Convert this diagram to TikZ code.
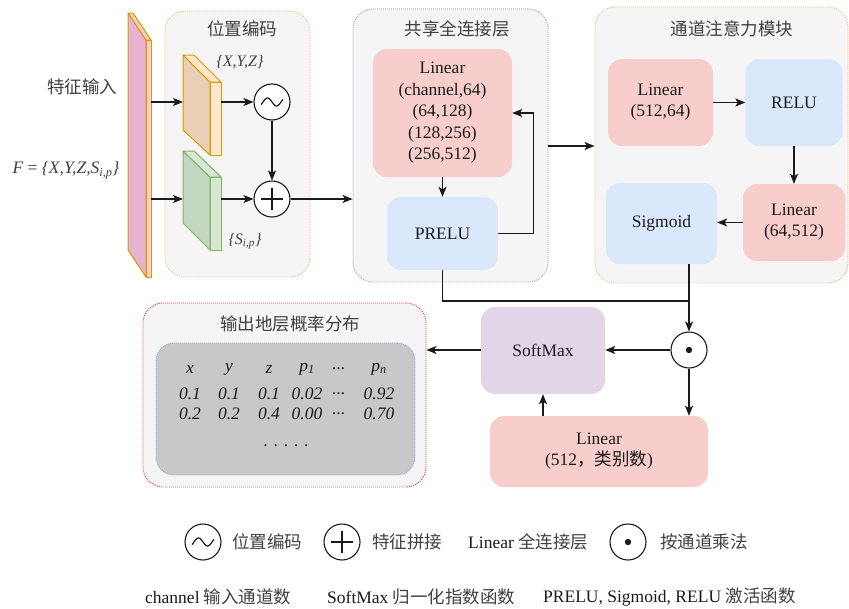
\documentclass[tikz,border=0pt]{standalone}
\usepackage{fontspec}
\setmainfont{Liberation Serif}
\newfontfamily\cjk{Noto Sans CJK SC}
\usetikzlibrary{arrows.meta,calc}

\definecolor{panelfill}{HTML}{F5F5F5}
\definecolor{orangeedge}{HTML}{FFB570}
\definecolor{blueedge}{HTML}{7EA6E0}
\definecolor{rededge}{HTML}{FF3333}
\definecolor{redfill}{HTML}{F8CECC}
\definecolor{bluefill}{HTML}{DAE8FC}
\definecolor{purplefill}{HTML}{E1D5E7}
\definecolor{grayfill}{HTML}{C8C8C8}
\definecolor{titlegray}{HTML}{404040}
\definecolor{ink}{HTML}{1A1A1A}
\definecolor{slabdark}{HTML}{E6B3D1}
\definecolor{slabedge}{HTML}{D79B00}
\definecolor{tandark}{HTML}{E8CFB6}
\definecolor{tanlite}{HTML}{FFE6CC}
\definecolor{greendark}{HTML}{C3D6C0}
\definecolor{greenlite}{HTML}{D5E8D4}
\definecolor{greenedge}{HTML}{82B366}

\newcommand\basesize{\fontsize{17.5}{21}\selectfont}
\newcommand\cjktext{\basesize\cjk}
\newcommand\rowdots{{.}{.}{.}}

\tikzset{
  panel/.style={draw, fill=panelfill, rounded corners=20pt, line width=0.9pt,
    dash pattern=on 0.9pt off 1.1pt, inner sep=0pt},
  block/.style={rounded corners=14pt, inner sep=0pt, align=center, text=ink},
  redblock/.style={block, fill=redfill},
  blueblock/.style={block, fill=bluefill},
  purpleblock/.style={block, fill=purplefill},
  ptitle/.style={text=titlegray, font=\cjktext},
  opcircle/.style={circle, draw=ink, line width=1.1pt, minimum size=36pt, inner sep=0pt},
  arr/.style={-{Stealth[length=10pt,width=8pt,inset=2.5pt]}, line width=1.2pt, draw=ink},
  wire/.style={line width=1.2pt, draw=ink},
  ghost/.style={inner sep=0pt, outer sep=0pt},
  tildesym/.pic={\draw[line width=1.2pt, ink] plot[domain=-11:11, samples=50, smooth] (\x,{4*sin(\x*20)});},
  plussym/.pic={\draw[line width=1.3pt, ink] (-11,0) -- (11,0) (0,-11) -- (0,11);},
  dotsym/.pic={\fill[ink] (0,0) circle (3.2pt);},
}

\begin{document}
\begin{tikzpicture}[x=1pt, y=-1pt, font=\basesize]
\useasboundingbox (0,0) rectangle (849,608);

% ---------- input feature slab ----------
\filldraw[draw=slabedge, fill=slabdark, line width=1pt, line join=round]
  (128,13) -- (146,40) -- (146,277) -- (128,250) -- cycle;
\filldraw[draw=slabedge, fill=redfill, line width=1pt] (146,40) rectangle (151,277);
\filldraw[draw=slabedge, fill=redfill, line width=1pt, line join=round]
  (128,13) -- (133,13) -- (151,40) -- (146,40) -- cycle;
\node[ghost, minimum width=23pt, minimum height=264pt] (slab) at (139.5,145) {};

\node[font=\cjktext, text=titlegray] (featin) at (82,87) {特征输入};
\node[text=titlegray] (featset) at (66,170) {\textit{F} = \textit{\{X,Y,Z,S\textsubscript{i,p}\}}};

% ---------- positional encoding panel ----------
\node[panel, draw=orangeedge, minimum width=145pt, minimum height=266pt] (pospanel) at (237.5,144) {};
\node[ptitle] (postitle) at (242,29) {位置编码};

% coordinate block
\filldraw[draw=slabedge, fill=tandark, line width=1pt, line join=round]
  (183,55) -- (210,82) -- (210,155) -- (183,130) -- cycle;
\filldraw[draw=slabedge, fill=tanlite, line width=1pt] (210,82) rectangle (221,155);
\filldraw[draw=slabedge, fill=tanlite, line width=1pt, line join=round]
  (183,55) -- (194,55) -- (221,82) -- (210,82) -- cycle;
\node[ghost, minimum width=38pt, minimum height=100pt] (xyzblk) at (202,105) {};
\node[text=titlegray, font=\fontsize{16}{19}\selectfont] (xyzlab) at (240,62) {\textit{\{X,Y,Z\}}};

% attribute block
\filldraw[draw=greenedge, fill=greendark, line width=1pt, line join=round]
  (183,151) -- (210,177) -- (210,250) -- (183,223) -- cycle;
\filldraw[draw=greenedge, fill=greenlite, line width=1pt] (210,177) rectangle (221,250);
\filldraw[draw=greenedge, fill=greenlite, line width=1pt, line join=round]
  (183,151) -- (194,151) -- (221,177) -- (210,177) -- cycle;
\node[ghost, minimum width=38pt, minimum height=99pt] (sblk) at (202,200.5) {};
\node[text=titlegray, font=\fontsize{16}{19}\selectfont] (slab2) at (245,241) {\textit{\{S\textsubscript{i,p}\}}};

\node[opcircle, fill=white] (pe) at (272,102) {};
\pic at (pe.center) {tildesym};
\node[opcircle, fill=white] (cat) at (272,199) {};
\pic at (cat.center) {plussym};

% ---------- shared fully connected panel ----------
\node[panel, draw=blueedge, minimum width=195pt, minimum height=273pt] (shared) at (450.5,145.5) {};
\node[ptitle] (sharedtitle) at (457,29) {共享全连接层};
\node[redblock, minimum width=139pt, minimum height=128pt,
      font=\fontsize{17.5}{21.5}\selectfont] (lin1) at (442.5,113)
  {Linear\\(channel,64)\\(64,128)\\(128,256)\\(256,512)};
\node[blueblock, minimum width=111pt, minimum height=73pt] (prelu) at (442.5,233.5) {PRELU};

% ---------- channel attention panel ----------
\node[panel, draw=orangeedge, minimum width=253pt, minimum height=276pt] (att) at (721.5,145) {};
\node[ptitle] (atttitle) at (732,29) {通道注意力模块};
\node[redblock, minimum width=105pt, minimum height=87pt] (linA) at (660.5,102.5) {Linear\\(512,64)};
\node[blueblock, minimum width=97pt, minimum height=87pt] (relu) at (794,102.5) {RELU};
\node[redblock, minimum width=102pt, minimum height=77pt] (linB) at (794,222.5) {Linear\\(64,512)};
\node[blueblock, minimum width=111pt, minimum height=81pt] (sigm) at (661.5,223.5) {Sigmoid};

% ---------- output stage ----------
\node[opcircle, fill=white] (mul) at (689,350) {};
\pic at (mul.center) {dotsym};
\node[purpleblock, minimum width=124pt, minimum height=87pt] (soft) at (543,350.5) {SoftMax};
\node[redblock, minimum width=218pt, minimum height=71pt] (linC) at (599,451.5) {Linear\\(512{\cjk ，类别数})};

\node[panel, draw=rededge, minimum width=283pt, minimum height=184pt] (outp) at (284.5,395) {};
\node[ptitle] (outtitle) at (290,324) {输出地层概率分布};
\node[ghost, draw=blueedge, fill=grayfill, rounded corners=18pt, line width=0.9pt,
      dash pattern=on 0.9pt off 1.1pt, minimum width=259pt, minimum height=132pt] (tbl) at (285.5,409) {};

% table of probabilities
\foreach \cx/\hd/\ra/\rb [count=\k] in
  {190/x/0.1/0.2, 229/y/0.1/0.2, 269/z/0.1/0.4, 307/p\textsubscript{1}/0.02/0.00,
   339/\rowdots/\rowdots/\rowdots, 379/p\textsubscript{n}/0.92/0.70} {
  \node[text=ink] (th\k) at (\cx,369) {\textit{\hd}};
  \node[text=ink] (ta\k) at (\cx,394) {\textit{\ra}};
  \node[text=ink] (tb\k) at (\cx,414) {\textit{\rb}};
}
\node[text=ink] (tdots) at (286,446) {. . . . .};

% ---------- connectors ----------
\draw[arr] (slab.east |- pe.center) -- (xyzblk.west |- pe.center);
\draw[arr] (xyzblk.east |- pe.center) -- (pe.west);
\draw[arr] (slab.east |- cat.center) -- (sblk.west |- cat.center);
\draw[arr] (sblk.east |- cat.center) -- (cat.west);
\draw[arr] (pe.south) -- (cat.north);
\draw[arr] (cat.east) -- (shared.west |- cat.center);

\draw[arr] (lin1.south) -- (prelu.north);
\draw[arr] (prelu.east) -- ++(35,0) |- (lin1.east);
\draw[arr] (shared.east |- 0,146) -- (att.west |- 0,146);

\draw[arr] (linA.east) -- (relu.west);
\draw[arr] (relu.south) -- (relu.south |- linB.north);
\draw[arr] (linB.west) -- (linB.west -| sigm.east);

\coordinate (join) at (689,301);
\draw[wire] (prelu.south) |- (join);
\draw[arr] (sigm.south -| mul.center) -- (mul.north);

\draw[arr] (mul.west) -- (soft.east |- mul.center);
\draw[arr] (mul.south) -- (mul.center |- linC.north);
\draw[arr] (linC.north -| soft.center) -- (soft.south);
\draw[arr] (soft.west |- mul.center) -- (outp.east |- mul.center);

% ---------- legend ----------
\node[opcircle] (legpe) at (203,542) {};
\pic at (legpe.center) {tildesym};
\node[font=\cjktext, text=titlegray] (legpet) at (267,542) {位置编码};
\node[opcircle] (legcat) at (342,542) {};
\pic at (legcat.center) {plussym};
\node[font=\cjktext, text=titlegray] (legcatt) at (407,542) {特征拼接};
\node[anchor=west, inner sep=0pt, text=ink] (leglin) at (468,542) {Linear {\cjk\color{titlegray} 全连接层}};
\node[opcircle] (legmul) at (628,542) {};
\pic at (legmul.center) {dotsym};
\node[anchor=west, inner sep=0pt, font=\cjktext, text=titlegray] (legmult) at (660,542) {按通道乘法};

\node[anchor=west, inner sep=0pt, text=ink] (legch) at (145,597) {channel {\cjk\color{titlegray} 输入通道数}};
\node[anchor=west, inner sep=0pt, text=ink] (legsm) at (327,597) {SoftMax {\cjk\color{titlegray} 归一化指数函数}};
\node[anchor=west, inner sep=0pt, text=ink] (legact) at (543,597) {PRELU, Sigmoid, RELU {\cjk\color{titlegray} 激活函数}};
\end{tikzpicture}
\end{document}
